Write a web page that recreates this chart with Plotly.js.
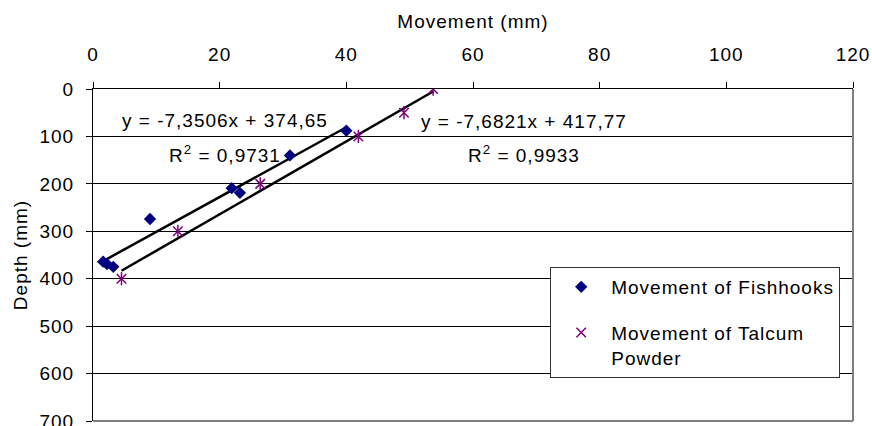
<!DOCTYPE html>
<html>
<head>
<meta charset="utf-8">
<script src="https://cdn.plot.ly/plotly-3.0.1.min.js"></script>
<style>
  html, body { margin: 0; padding: 0; background: #fff; }
  #chart { width: 872px; height: 426px; }
  svg text { letter-spacing: 1px; }
</style>
</head>
<body>
<div id="chart"></div>
<script>
// ---- data ----
const fishMovement = [1.6, 2.2, 3.2, 9.0, 21.9, 23.2, 31.1, 40.0];
const fishDepth    = [364, 369, 375, 274, 209, 219, 140, 88];
const talcMovement = [4.5, 13.4, 26.4, 41.9, 49.1, 53.7];
const talcDepth    = [400, 300, 200, 100, 50, 0];

// trendline coefficients as printed on the chart
const fishSlope = -7.3506, fishIntercept = 374.65, fishR2 = "0,9731";
const talcSlope = -7.6821, talcIntercept = 417.77, talcR2 = "0,9933";
const fishEqText = "y = -7,3506x + 374,65";
const talcEqText = "y = -7,6821x + 417,77";

const seriesNames = ["Movement of Fishhooks", "Movement of Talcum<br>Powder"];
const xTickVals = [0, 20, 40, 60, 80, 100, 120];
const yTickVals = [0, 100, 200, 300, 400, 500, 600, 700];

function trend(xs, m, b) {
  const lo = Math.min(...xs), hi = Math.max(...xs);
  return { x: [lo, hi], y: [m * lo + b, m * hi + b] };
}
const fishTrend = trend(fishMovement, fishSlope, fishIntercept);
const talcTrend = trend(talcMovement, talcSlope, talcIntercept);

const FONT = "Liberation Sans, Arial, sans-serif";
const FS = 19;

const traces = [
  { x: fishTrend.x, y: fishTrend.y, mode: "lines", showlegend: false, hoverinfo: "skip",
    line: { color: "#000000", width: 2.5 } },
  { x: talcTrend.x, y: talcTrend.y, mode: "lines", showlegend: false, hoverinfo: "skip",
    line: { color: "#000000", width: 2.5 } },
  { x: fishMovement, y: fishDepth, mode: "markers", name: seriesNames[0], legendgroup: "a",
    marker: { symbol: "diamond", size: 9.5, color: "#000080" } },
  { x: talcMovement, y: talcDepth, mode: "markers", name: seriesNames[1], legendgroup: "b",
    marker: { symbol: "x-thin-open", size: 9.5, color: "#800080", line: { color: "#800080", width: 1.5 } } },
  { x: talcMovement, y: talcDepth, mode: "markers", showlegend: false, legendgroup: "b",
    marker: { symbol: "line-ns-open", size: 9.5, color: "#800080", line: { color: "#800080", width: 1.5 } } }
];

const layout = {
  width: 872, height: 426,
  margin: { l: 93, r: 19, t: 89, b: 5, pad: 0 },
  paper_bgcolor: "#ffffff", plot_bgcolor: "#ffffff",
  font: { family: FONT, size: FS, color: "#000000" },
  showlegend: true,
  xaxis: {
    side: "top", range: [0, 120], tickvals: xTickVals, ticktext: xTickVals.map(String),
    ticks: "outside", ticklen: 6, tickcolor: "#000", showline: true, linecolor: "#000", linewidth: 1,
    showgrid: false, zeroline: false, ticklabelstandoff: 13, ticklabeloverflow: "allow",
    tickfont: { size: FS },
    title: { text: "Movement (mm)", font: { size: FS }, standoff: 10 }
  },
  yaxis: {
    range: [700, 0], tickvals: yTickVals, ticktext: yTickVals.map(String),
    ticks: "outside", ticklen: 6, tickcolor: "#000", showline: true, linecolor: "#000", linewidth: 1,
    showgrid: true, gridcolor: "#000000", gridwidth: 1, zeroline: false, ticklabelstandoff: 8,
    ticklabeloverflow: "allow",
    tickfont: { size: FS },
    title: { text: "Depth (mm)", font: { size: FS }, standoff: 6 }
  },
  shapes: [
    { type: "line", xref: "paper", yref: "paper", x0: 0, x1: 1, y0: 0, y1: 0, layer: "above",
      line: { color: "#808080", width: 2 } },
    { type: "line", xref: "paper", yref: "paper", x0: 1, x1: 1, y0: 0, y1: 1, layer: "above",
      line: { color: "#808080", width: 2 } }
  ],
  annotations: [
    { xref: "x", yref: "y", x: 20.9, y: 67, text: fishEqText, showarrow: false, xanchor: "center", yanchor: "middle" },
    { xref: "x", yref: "y", x: 20.9, y: 136.7, text: "R<sup>2</sup> = " + fishR2, showarrow: false, xanchor: "center", yanchor: "middle" },
    { xref: "x", yref: "y", x: 68.1, y: 68.3, text: talcEqText, showarrow: false, xanchor: "center", yanchor: "middle" },
    { xref: "x", yref: "y", x: 68.1, y: 136.7, text: "R<sup>2</sup> = " + talcR2, showarrow: false, xanchor: "center", yanchor: "middle" }
  ],
  legend: {
    x: 0.6016, y: 0.4638, xanchor: "left", yanchor: "top", valign: "top",
    bgcolor: "#ffffff", bordercolor: "#333333", borderwidth: 1,
    font: { size: FS }, itemwidth: 50, traceorder: "grouped", tracegroupgap: 18,
    itemclick: false, itemdoubleclick: false
  }
};

Plotly.newPlot("chart", traces, layout, { staticPlot: true, displayModeBar: false });
</script>
</body>
</html>
